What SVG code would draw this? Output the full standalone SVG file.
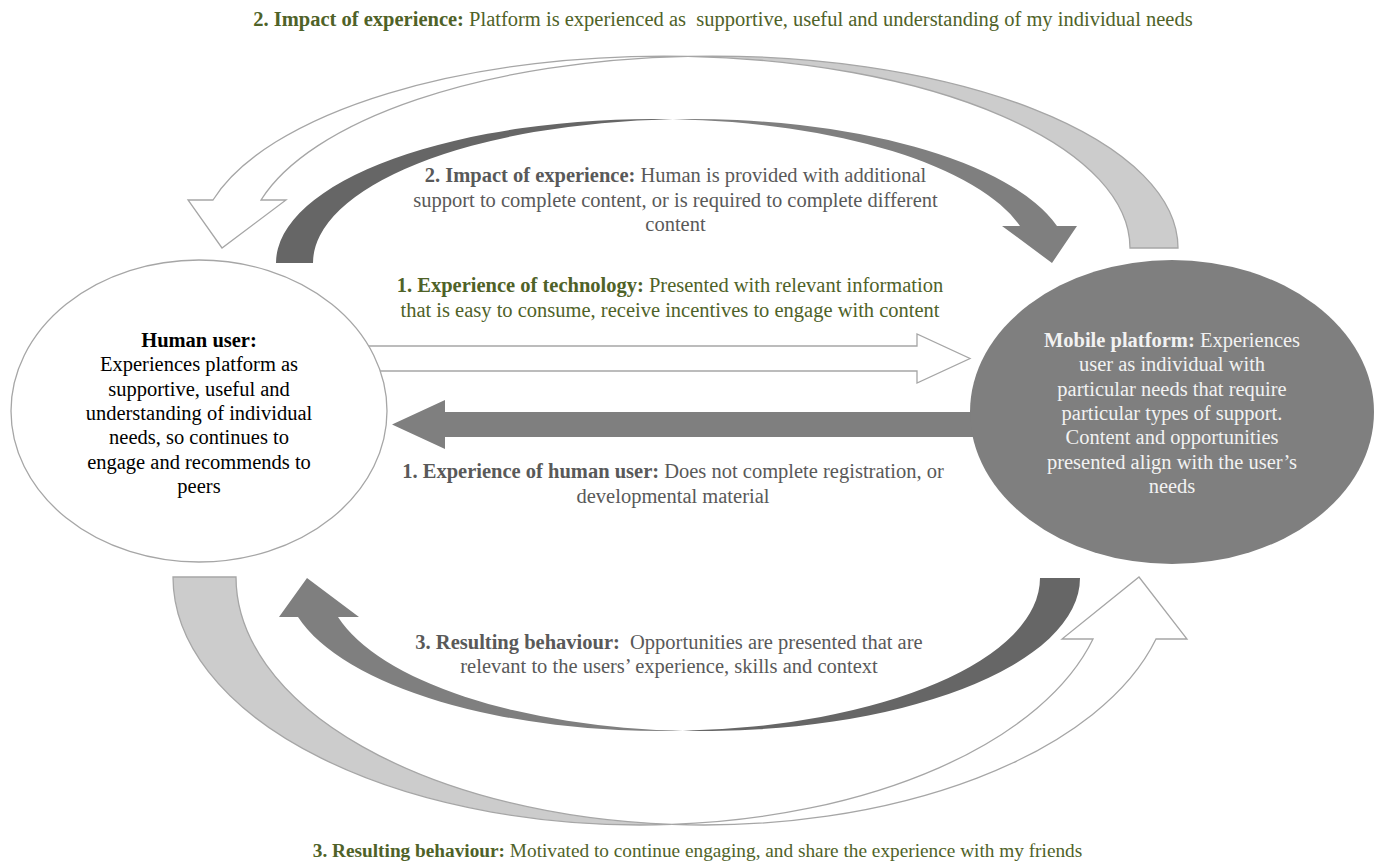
<svg xmlns="http://www.w3.org/2000/svg" width="1381" height="861" viewBox="0 0 1381 861">
  <style>
    text { font-family: "Liberation Serif", "Times New Roman", serif; font-size: 20.5px; text-anchor: middle; }
    .b { font-weight: bold; }
    .green { fill: #4f6228; }
    .grey { fill: #595959; }
    .black { fill: #000000; }
    .pale { fill: #f2f2f2; }
    .small { font-size: 19.3px; }
    .open { fill: #ffffff; stroke: #a6a6a6; stroke-width: 1.3; stroke-linejoin: miter; }
    .shade { fill: #cccccc; stroke: #a6a6a6; stroke-width: 1.3; stroke-linejoin: miter; }
    .solid-back { fill: #666666; }
    .solid { fill: #7f7f7f; }
  </style>

  <rect width="1381" height="861" fill="#ffffff"/>

  <!-- connectors: curved and straight block arrows between the two nodes -->
  <g id="connectors">
    <!-- outer top loop: platform back to user (open arrow) -->
    <path class="shade" d="M 688 56.3 A 466 192 0 0 1 1178 248 L 1130 248 A 466 192 0 0 0 688 56.3 Z"/>
    <path class="open" d="M 688 56.3 A 466 192 0 0 0 213 200 L 188 200 L 222 248 L 286 200 L 261 200 A 466 192 0 0 1 688 56.3 Z"/>

    <!-- inner top loop: user to platform (solid arrow) -->
    <path class="solid-back" d="M 276 263 A 378.4 144 0 0 1 672.9 119.2 A 378.4 144 0 0 0 313 263 Z"/>
    <path class="solid" d="M 672.9 119.2 A 378.4 144 0 0 1 1057 226 L 1077 226 L 1052 263 L 1002 226 L 1020 226 A 378.4 144 0 0 0 672.9 119.2 Z"/>

    <!-- straight arrows -->
    <path class="open" d="M 360 346 L 917 346 L 917 334 L 970 358.5 L 917 383 L 917 371 L 360 371 Z"/>
    <path class="solid" d="M 995 412 L 445 412 L 445 400 L 392 424.5 L 445 449 L 445 437 L 995 437 Z"/>

    <!-- inner bottom loop: platform back to user (solid arrow) -->
    <path class="solid-back" d="M 1080 578 A 377.2 153 0 0 1 682.8 730.8 A 377.2 153 0 0 0 1040 578 Z"/>
    <path class="solid" d="M 682.8 730.8 A 377.2 153 0 0 1 298 617 L 279 617 L 307 578 L 359 617 L 338 617 A 377.2 153 0 0 0 682.8 730.8 Z"/>

    <!-- outer bottom loop: user to platform (open arrow) -->
    <path class="shade" d="M 173 577 A 467.4 248 0 0 0 671.9 824.4 A 467.4 248 0 0 1 236 577 Z"/>
    <path class="open" d="M 671.9 824.4 A 467.4 248 0 0 0 1156 639 L 1187 639 L 1139 577 L 1062 639 L 1093 639 A 467.4 248 0 0 1 671.9 824.4 Z"/>
  </g>

  <!-- node: human user -->
  <g id="human-user">
    <ellipse cx="199" cy="411" rx="188" ry="151" fill="#ffffff" stroke="#a6a6a6" stroke-width="1.3"/>
    <text class="black" x="199" y="347"><tspan class="b">Human user:</tspan></text>
    <text class="black" x="199" y="371.3">Experiences platform as</text>
    <text class="black" x="199" y="395.6">supportive, useful and</text>
    <text class="black" x="199" y="419.9">understanding of individual</text>
    <text class="black" x="199" y="444.2">needs, so continues to</text>
    <text class="black" x="199" y="468.5">engage and recommends to</text>
    <text class="black" x="199" y="492.8">peers</text>
  </g>

  <!-- node: mobile platform -->
  <g id="mobile-platform">
    <ellipse cx="1172" cy="412" rx="202" ry="152" fill="#7f7f7f"/>
    <text class="pale" x="1172" y="347"><tspan class="b">Mobile platform:</tspan> Experiences</text>
    <text class="pale" x="1172" y="371.3">user as individual with</text>
    <text class="pale" x="1172" y="395.6">particular needs that require</text>
    <text class="pale" x="1172" y="419.9">particular types of support.</text>
    <text class="pale" x="1172" y="444.2">Content and opportunities</text>
    <text class="pale" x="1172" y="468.5">presented align with the user’s</text>
    <text class="pale" x="1172" y="492.8">needs</text>
  </g>

  <!-- connector labels -->
  <g id="labels">
    <text class="green" x="723" y="26" xml:space="preserve"><tspan class="b">2. Impact of experience:</tspan> Platform is experienced as  supportive, useful and understanding of my individual needs</text>

    <text class="grey" x="675.5" y="182"><tspan class="b">2. Impact of experience:</tspan> Human is provided with additional</text>
    <text class="grey" x="675.5" y="206.5">support to complete content, or is required to complete different</text>
    <text class="grey" x="675.5" y="231">content</text>

    <text class="green" x="670" y="292"><tspan class="b">1. Experience of technology:</tspan> Presented with relevant information</text>
    <text class="green" x="670" y="316.5">that is easy to consume, receive incentives to engage with content</text>

    <text class="grey" x="673" y="478"><tspan class="b">1. Experience of human user:</tspan> Does not complete registration, or</text>
    <text class="grey" x="673" y="502.5">developmental material</text>

    <text class="grey" x="669" y="649" xml:space="preserve"><tspan class="b">3. Resulting behaviour:</tspan>  Opportunities are presented that are</text>
    <text class="grey" x="669" y="672.5">relevant to the users’ experience, skills and context</text>

    <text class="green small" x="697.5" y="857"><tspan class="b">3. Resulting behaviour:</tspan> Motivated to continue engaging, and share the experience with my friends</text>
  </g>
</svg>
